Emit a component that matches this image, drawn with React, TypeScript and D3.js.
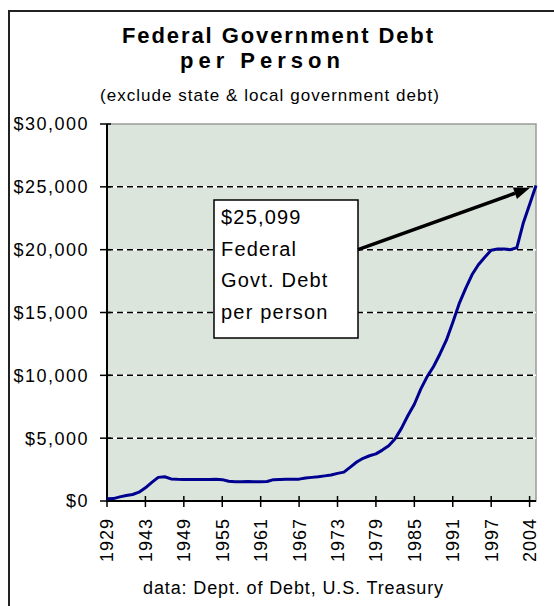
import React from "react";
import * as d3 from "d3";

const years: string[] = [
  "1929", "1930", "1935", "1940", "1941", "1942",
  "1943", "1944", "1945", "1946", "1947", "1948", "1949", "1950", "1951", "1952",
  "1953", "1954", "1955", "1956", "1957", "1958", "1959", "1960", "1961", "1962",
  "1963", "1964", "1965", "1966", "1967", "1968", "1969", "1970", "1971", "1972",
  "1973", "1974", "1975", "1976", "1977", "1978", "1979", "1980", "1981", "1982",
  "1983", "1984", "1985", "1986", "1987", "1988", "1989", "1990", "1991", "1992",
  "1993", "1994", "1995", "1996", "1997", "1998", "1999", "2000", "2001", "2002",
  "2003", "2004",
];

const debtPerPerson: number[] = [
  170, 190, 330, 430, 520, 700,
  1050, 1480, 1880, 1930, 1760, 1730, 1720, 1720, 1710, 1710,
  1720, 1730, 1700, 1570, 1540, 1540, 1550, 1540, 1540, 1550,
  1700, 1720, 1730, 1730, 1740, 1830, 1880, 1930, 2000, 2070,
  2200, 2300, 2700, 3100, 3400, 3600, 3750, 4050, 4400, 4950,
  5800, 6800, 7700, 8900, 9900, 10700, 11700, 12800, 14200, 15700,
  16900, 18000, 18800, 19400, 19950, 20050, 20050, 20000, 20150, 22100,
  23600, 25099,
];

const tickLabels: string[] = [
  "1929", "1943", "1949", "1955", "1961", "1967", "1973", "1979", "1985", "1991", "1997", "2004",
];

const yTicks: number[] = [0, 5000, 10000, 15000, 20000, 25000, 30000];

const titleLines: string[] = ["Federal Government Debt", "per Person"];
const subtitle = "(exclude state & local government debt)";
const annotationLines: string[] = ["$25,099", "Federal", "Govt. Debt", "per person"];
const footer = "data: Dept. of Debt, U.S. Treasury";

const FONT = "'Liberation Sans', Arial, sans-serif";

export default function App() {
  const W = 554, H = 606;
  const left = 107, right = 536, top = 124, bottom = 501;

  const x = d3.scalePoint<string>().domain(years).range([left, right]);
  const y = d3.scaleLinear().domain([0, 30000]).range([bottom, top]);

  const data = years.map((yr, i) => ({ yr, v: debtPerPerson[i] }));
  const line = d3.line<{ yr: string; v: number }>()
    .x((d) => x(d.yr) as number)
    .y((d) => y(d.v));

  const tickIdx = tickLabels.map((_, i) => i * 6);
  const fmt = (v: number) => "$" + d3.format(",")(v);

  // annotation box
  const box = { x0: 214, y0: 200, x1: 358, y1: 338 };
  const arrowStart = { x: box.x1, y: y(20000) };
  const arrowTip = { x: (x(years[years.length - 1]) as number) - 6, y: y(25000) + 1 };
  const ang = Math.atan2(arrowTip.y - arrowStart.y, arrowTip.x - arrowStart.x);
  const headLen = 16, headW = 6;
  const bx = arrowTip.x - headLen * Math.cos(ang);
  const by = arrowTip.y - headLen * Math.sin(ang);
  const head = [
    [arrowTip.x, arrowTip.y],
    [bx + headW * Math.sin(ang), by - headW * Math.cos(ang)],
    [bx - headW * Math.sin(ang), by + headW * Math.cos(ang)],
  ].map((p) => p.join(",")).join(" ");

  return (
    <svg width={W} height={H} style={{ position: "absolute", left: 0, top: 0, background: "#fff" }} fontFamily={FONT}>
      <rect x={0} y={0} width={W} height={H} fill="#fff" />
      {/* chart area border */}
      <rect x={9} y={11} width={600} height={640} fill="none" stroke="#222" strokeWidth={2} />

      {/* titles */}
      <text x={122} y={43} fontSize={22} fontWeight="bold" textLength={311} lengthAdjust="spacing" fill="#000">{titleLines[0]}</text>
      <text x={180} y={68} fontSize={22} fontWeight="bold" textLength={160} lengthAdjust="spacing" fill="#000">{titleLines[1]}</text>
      <text x={100} y={101} fontSize={17} textLength={339} lengthAdjust="spacing" fill="#000">{subtitle}</text>

      {/* plot area */}
      <rect x={left} y={top} width={right - left} height={bottom - top} fill="#dce5dc" stroke="#9a9a9a" strokeWidth={1.5} />

      {/* gridlines */}
      {yTicks.filter((t) => t > 0 && t < 30000).map((t) => (
        <g key={"g" + t}>
          <line x1={left} x2={right} y1={y(t)} y2={y(t)} stroke="#fff" strokeWidth={1.5} />
          <line x1={left} x2={right} y1={y(t)} y2={y(t)} stroke="#000" strokeWidth={1.5} strokeDasharray="6,4" />
        </g>
      ))}

      {/* axes */}
      <line x1={left} x2={left} y1={top} y2={bottom} stroke="#000" strokeWidth={2} />
      <line x1={left} x2={right} y1={bottom} y2={bottom} stroke="#000" strokeWidth={2} />

      {/* y ticks and labels */}
      {yTicks.map((t) => (
        <g key={"y" + t}>
          <line x1={100} x2={111} y1={y(t)} y2={y(t)} stroke="#000" strokeWidth={1.5} />
          <text x={89} y={y(t)} dy="0.36em" textAnchor="end" fontSize={18} letterSpacing={1.5} fill="#000">{fmt(t)}</text>
        </g>
      ))}

      {/* x ticks and labels */}
      {tickIdx.map((idx, i) => {
        const px = x(years[idx]) as number;
        return (
          <g key={"x" + i}>
            <line x1={px} x2={px} y1={bottom - 5} y2={bottom + 6} stroke="#000" strokeWidth={1.5} />
            <text transform={`translate(${px},518) rotate(-90)`} textAnchor="end" dy="0.36em" fontSize={18} letterSpacing={1} fill="#000">{tickLabels[i]}</text>
          </g>
        );
      })}

      {/* data line */}
      <path d={line(data) ?? ""} fill="none" stroke="#000090" strokeWidth={3} strokeLinejoin="round" />

      {/* annotation */}
      <rect x={box.x0} y={box.y0} width={box.x1 - box.x0} height={box.y1 - box.y0} fill="#fff" stroke="#000" strokeWidth={1.5} />
      {annotationLines.map((s, i) => (
        <text key={s} x={221} y={224 + i * 31.5} fontSize={20} letterSpacing={1.2} fill="#000">{s}</text>
      ))}
      <line x1={arrowStart.x} y1={arrowStart.y} x2={bx} y2={by} stroke="#000" strokeWidth={3.5} />
      <polygon points={head} fill="#000" />

      {/* footer */}
      <text x={143} y={594} fontSize={18} textLength={300} lengthAdjust="spacing" fill="#000">{footer}</text>
    </svg>
  );
}
